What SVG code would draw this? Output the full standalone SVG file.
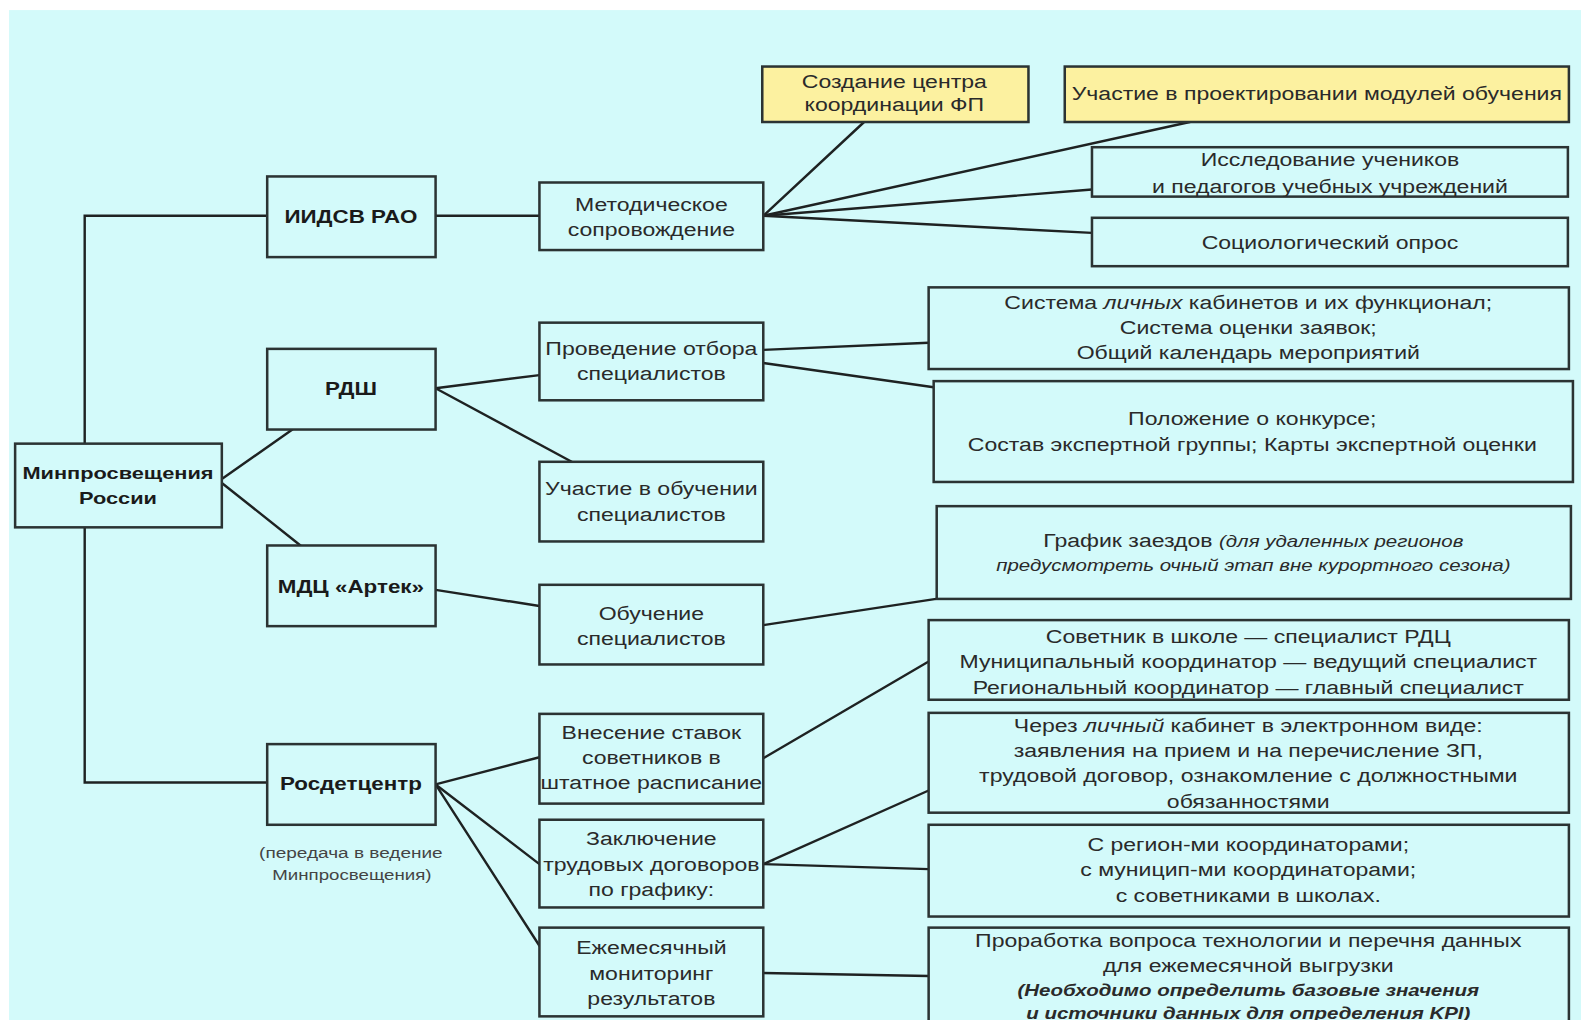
<svg xmlns="http://www.w3.org/2000/svg" width="1581" height="1020" viewBox="0 0 1581 1020">
<style>
.bg{fill:#d3fafa}
.box{fill:#d3fafa;stroke:#2b3333;stroke-width:2.5}
.yel{fill:#fcf1a0;stroke:#2b3333;stroke-width:2.5}
.ln{fill:none;stroke:#1e2222;stroke-width:2.4;stroke-linecap:round}
text{font-family:"Liberation Sans",Arial,sans-serif;font-size:18px;fill:#2a2a2a;text-anchor:middle}
.b{font-weight:bold;fill:#1a1a1a}
.i{font-style:italic;font-size:16px}
.bi{font-style:italic;font-weight:bold;font-size:16px}
.cap{font-size:14px;fill:#444}
</style>
<rect width="1581" height="1020" fill="#ffffff"/>
<g transform="scale(1.00829)">
<rect class="bg" x="9" y="10" width="1560" height="1005"/>

<g id="connectors">
<polyline class="ln" points="265,214 84,214 84,440"/>
<polyline class="ln" points="84,523 84,776 265,776"/>
<line class="ln" x1="220" y1="475" x2="290" y2="426"/>
<line class="ln" x1="220" y1="479" x2="298" y2="541"/>
<line class="ln" x1="432" y1="214" x2="535" y2="214"/>
<line class="ln" x1="757" y1="214" x2="857" y2="121"/>
<line class="ln" x1="757" y1="214" x2="1180" y2="121"/>
<line class="ln" x1="757" y1="214" x2="1083" y2="188"/>
<line class="ln" x1="757" y1="214" x2="1083" y2="231"/>
<line class="ln" x1="432" y1="385" x2="535" y2="372"/>
<line class="ln" x1="432" y1="385" x2="567" y2="458"/>
<line class="ln" x1="757" y1="347" x2="921" y2="340"/>
<line class="ln" x1="757" y1="360" x2="926" y2="384"/>
<line class="ln" x1="432" y1="585" x2="535" y2="601"/>
<line class="ln" x1="757" y1="620" x2="935" y2="593"/>
<line class="ln" x1="432" y1="778" x2="535" y2="751"/>
<line class="ln" x1="432" y1="778" x2="535" y2="857"/>
<line class="ln" x1="432" y1="778" x2="535" y2="938"/>
<line class="ln" x1="757" y1="752" x2="921" y2="656"/>
<line class="ln" x1="757" y1="857" x2="921" y2="784"/>
<line class="ln" x1="757" y1="857" x2="921" y2="862"/>
<line class="ln" x1="757" y1="965" x2="921" y2="968"/>
</g>

<g id="minpros">
<rect class="box" x="15" y="440" width="205" height="83"/>
<g transform="translate(117 0) scale(1.27 1)">
<text class="b" style="font-size:17px" y="475">Минпросвещения</text>
<text class="b" style="font-size:17px" y="500">России</text>
</g>
</g>

<g id="iidsv">
<rect class="box" x="265" y="175" width="167" height="80"/>
<g transform="translate(348 0) scale(1.27 1)"><text class="b" style="font-size:17.5px" y="221">ИИДСВ РАО</text></g>
</g>
<g id="rdsh">
<rect class="box" x="265" y="346" width="167" height="80"/>
<g transform="translate(348 0) scale(1.27 1)"><text class="b" style="font-size:17.5px" y="392">РДШ</text></g>
</g>
<g id="artek">
<rect class="box" x="265" y="541" width="167" height="80"/>
<g transform="translate(348 0) scale(1.27 1)"><text class="b" style="font-size:17.5px" y="588">МДЦ «Артек»</text></g>
</g>
<g id="rosdet">
<rect class="box" x="265" y="738" width="167" height="80"/>
<g transform="translate(348 0) scale(1.27 1)"><text class="b" style="font-size:17.5px" y="784">Росдетцентр</text></g>
<text class="cap" x="348" y="851" textLength="182" lengthAdjust="spacingAndGlyphs">(передача в ведение</text>
<text class="cap" x="349" y="873" textLength="158" lengthAdjust="spacingAndGlyphs">Минпросвещения)</text>
</g>

<g id="metod">
<rect class="box" x="535" y="181" width="222" height="67"/>
<g transform="translate(646 0) scale(1.27 1)"><text y="209">Методическое</text><text y="234">сопровождение</text></g>
</g>
<g id="otbor">
<rect class="box" x="535" y="320" width="222" height="77"/>
<g transform="translate(646 0) scale(1.27 1)"><text y="352">Проведение отбора</text><text y="377">специалистов</text></g>
</g>
<g id="uch-obuch">
<rect class="box" x="535" y="458" width="222" height="79"/>
<g transform="translate(646 0) scale(1.27 1)"><text y="491">Участие в обучении</text><text y="517">специалистов</text></g>
</g>
<g id="obuch">
<rect class="box" x="535" y="580" width="222" height="79"/>
<g transform="translate(646 0) scale(1.27 1)"><text y="615">Обучение</text><text y="640">специалистов</text></g>
</g>
<g id="vnesenie">
<rect class="box" x="535" y="708" width="222" height="89"/>
<g transform="translate(646 0) scale(1.27 1)"><text y="733">Внесение ставок</text><text y="758">советников в</text><text y="783">штатное расписание</text></g>
</g>
<g id="zakl">
<rect class="box" x="535" y="813" width="222" height="87"/>
<g transform="translate(646 0) scale(1.27 1)"><text y="838">Заключение</text><text y="864">трудовых договоров</text><text y="889">по графику:</text></g>
</g>
<g id="monitor">
<rect class="box" x="535" y="920" width="222" height="88"/>
<g transform="translate(646 0) scale(1.27 1)"><text y="946">Ежемесячный</text><text y="972">мониторинг</text><text y="997">результатов</text></g>
</g>

<g id="sozdanie">
<rect class="yel" x="756" y="66" width="264" height="55"/>
<g transform="translate(887 0) scale(1.27 1)"><text y="87">Создание центра</text><text y="110">координации ФП</text></g>
</g>
<g id="proekt">
<rect class="yel" x="1056" y="66" width="500" height="55"/>
<g transform="translate(1306 0) scale(1.27 1)"><text y="99">Участие в проектировании модулей обучения</text></g>
</g>
<g id="issled">
<rect class="box" x="1083" y="146" width="472" height="49"/>
<g transform="translate(1319 0) scale(1.27 1)"><text y="165">Исследование учеников</text><text y="191">и педагогов учебных учреждений</text></g>
</g>
<g id="socio">
<rect class="box" x="1083" y="216" width="472" height="48"/>
<g transform="translate(1319 0) scale(1.27 1)"><text y="247">Социологический опрос</text></g>
</g>
<g id="sistema">
<rect class="box" x="921" y="285" width="635" height="81"/>
<g transform="translate(1238 0) scale(1.27 1)"><text y="306">Система <tspan font-style="italic">личных</tspan> кабинетов и их функционал;</text><text y="331">Система оценки заявок;</text><text y="356">Общий календарь мероприятий</text></g>
</g>
<g id="polozhenie">
<rect class="box" x="926" y="378" width="634" height="100"/>
<g transform="translate(1242 0) scale(1.27 1)"><text y="422">Положение о конкурсе;</text><text y="447">Состав экспертной группы; Карты экспертной оценки</text></g>
</g>
<g id="grafik">
<rect class="box" x="929" y="502" width="629" height="92"/>
<g transform="translate(1243 0) scale(1.27 1)"><text y="543">График заездов <tspan class="i">(для удаленных регионов</tspan></text><text class="i" y="566">предусмотреть очный этап вне курортного сезона)</text></g>
</g>
<g id="sovetnik">
<rect class="box" x="921" y="615" width="635" height="79"/>
<g transform="translate(1238 0) scale(1.27 1)"><text y="638">Советник в школе — специалист РДЦ</text><text y="663">Муниципальный координатор — ведущий специалист</text><text y="688">Региональный координатор — главный специалист</text></g>
</g>
<g id="cherez">
<rect class="box" x="921" y="707" width="635" height="99"/>
<g transform="translate(1238 0) scale(1.27 1)"><text y="726">Через <tspan font-style="italic">личный</tspan> кабинет в электронном виде:</text><text y="751">заявления на прием и на перечисление ЗП,</text><text y="776">трудовой договор, ознакомление с должностными</text><text y="801">обязанностями</text></g>
</g>
<g id="region">
<rect class="box" x="921" y="818" width="635" height="91"/>
<g transform="translate(1238 0) scale(1.27 1)"><text y="844">С регион-ми координаторами;</text><text y="869">с муницип-ми координаторами;</text><text y="895">с советниками в школах.</text></g>
</g>
<g id="prorabotka">
<rect class="box" x="921" y="920" width="635" height="110"/>
<g transform="translate(1238 0) scale(1.27 1)"><text y="939">Проработка вопроса технологии и перечня данных</text><text y="964">для ежемесячной выгрузки</text><text class="bi" y="988">(Необходимо определить базовые значения</text><text class="bi" y="1011">и источники данных для определения KPI)</text></g>
</g>
</g>
</svg>
